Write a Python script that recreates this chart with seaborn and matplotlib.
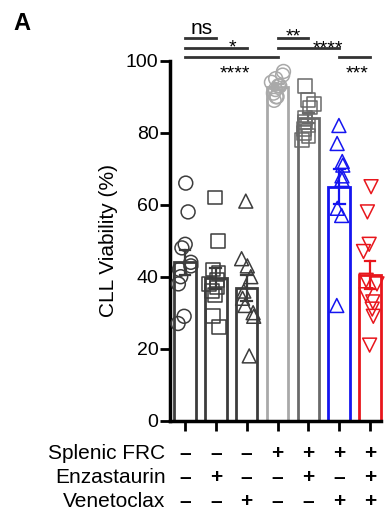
import matplotlib
matplotlib.use('Agg')
import matplotlib.pyplot as plt
import seaborn as sns
import numpy as np
import pandas as pd

# condition groups (bar order left to right)
groups = ['G1', 'G2', 'G3', 'G4', 'G5', 'G6', 'G7']

# CLL viability (%) per replicate
g1_vals = [66, 58, 48, 49, 44, 43, 42, 40, 38, 29, 27]
g2_vals = [62, 50, 42, 41, 39, 38, 37, 36, 35, 29, 26]
g3_vals = [61, 45, 43, 40, 36, 34, 32, 30, 29, 18]
g4_vals = [97, 96, 95, 94, 93, 93, 92, 91, 90, 90, 89]
g5_vals = [93, 89, 88, 87, 84, 83, 82, 81, 80, 79, 78]
g6_vals = [82, 77, 72, 71, 68, 67, 59, 57, 32]
g7_vals = [65, 58, 49, 47, 39, 38, 35, 33, 31, 29, 21]

# treatment table under the x axis
row_names = ['Splenic FRC', 'Enzastaurin', 'Venetoclax']
frc = ['-', '-', '-', '+', '+', '+', '+']
enza = ['-', '+', '-', '-', '+', '-', '+']
veneto = ['-', '-', '+', '-', '-', '+', '+']

colors = ['#3c3c3c', '#3c3c3c', '#3c3c3c', '#a9a9a9', '#6a6a6a', '#1515f0', '#e8161c']
markers = ['o', 's', '^', 'o', 's', '^', 'v']

all_vals = [g1_vals, g2_vals, g3_vals, g4_vals, g5_vals, g6_vals, g7_vals]
df = pd.DataFrame({
    'group': np.concatenate([[g] * len(v) for g, v in zip(groups, all_vals)]),
    'value': np.concatenate(all_vals),
})

np.random.seed(3)  # only for the horizontal scatter of the points
plt.rcParams['font.family'] = ['Liberation Sans', 'DejaVu Sans']
fig = plt.figure(figsize=(3.86, 5.14), dpi=100)
ax = fig.add_axes([169.6 / 386, 93.3 / 514, 215.8 / 386, 360 / 514])

for i, g in enumerate(groups):
    sub = df[df['group'] == g]
    sns.barplot(data=sub, x='group', y='value', order=groups, color=colors[i],
                fill=False, width=0.7, linewidth=2, errorbar='se', capsize=0.35,
                err_kws={'color': colors[i], 'linewidth': 1.6}, ax=ax)
    n_before = len(ax.collections)
    sns.stripplot(data=sub, x='group', y='value', order=groups, marker=markers[i],
                  color=colors[i], size=10, jitter=0.24, ax=ax, zorder=3)
    for c in list(ax.collections[n_before:]):
        if len(c.get_offsets()) == 0:
            c.remove()
            continue
        c.set_facecolor('none')
        c.set_edgecolor(colors[i])
        c.set_linewidth(1.1)
        c.set_clip_on(False)

ax.set_xlim(-0.5, 6.5)
ax.set_ylim(0, 100)
ax.set_yticks([0, 20, 40, 60, 80, 100])
ax.set_xticks(range(len(groups)))
ax.set_xticklabels([])
ax.set_xlabel('')
ax.set_ylabel('CLL Viability (%)', fontsize=15, labelpad=6)
ax.tick_params(axis='y', labelsize=14, width=2, length=7, pad=1)
ax.tick_params(axis='x', width=2, length=7)
for s in ['top', 'right']:
    ax.spines[s].set_visible(False)
for s in ['left', 'bottom']:
    ax.spines[s].set_linewidth(2.5)
ax.spines['bottom'].set_bounds(-0.5, 6.35)

# treatment table
sign_map = {'-': '\u2013', '+': '+'}
row_y = [-8.6, -15.2, -21.8]
for name, row, y in zip(row_names, [frc, enza, veneto], row_y):
    ax.text(-0.63, y, name, ha='right', va='center_baseline', fontsize=15, clip_on=False)
    for i, s in enumerate(row):
        ax.text(i, y, sign_map[s], ha='center', va='center_baseline', fontsize=15,
                fontweight='bold', clip_on=False)

# significance brackets: (start bar, end bar, line y, label, label x, label baseline)
brackets = [
    (0, 1, 106.2, 'ns', 0.54, 107.4),
    (0, 2, 103.6, '*', 1.53, 102.4),
    (0, 3, 100.9, '****', 1.62, 95.0),
    (3, 4, 106.2, '**', 3.5, 105.4),
    (3, 5, 103.6, '****', 4.64, 101.9),
    (5, 6, 100.9, '***', 5.57, 95.0),
]
for a, b, y, lab, tx, ty in brackets:
    ax.plot([a, b], [y, y], color='#333333', lw=2, clip_on=False)
    fs = 15 if lab == 'ns' else 14
    ax.text(tx, ty, lab, ha='center', va='baseline', fontsize=fs, clip_on=False)

fig.text(13 / 386, 1 - 30 / 514, 'A', fontsize=17, fontweight='bold', va='baseline')

fig.savefig('out.png', dpi=100)
